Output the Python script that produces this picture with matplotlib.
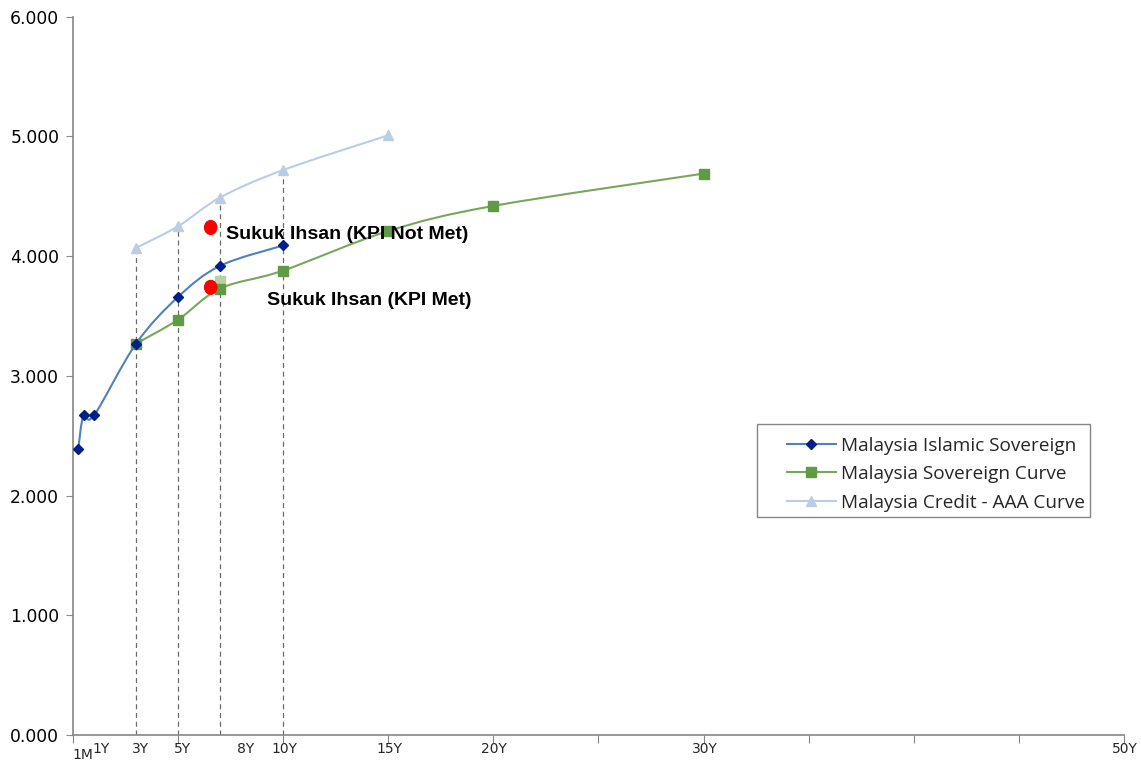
import matplotlib
matplotlib.use("Agg")
import matplotlib.pyplot as plt
from matplotlib.path import Path
from matplotlib.patches import PathPatch, Ellipse, Rectangle
from matplotlib.lines import Line2D
import matplotlib.transforms as mtransforms

# tenor in years
islamic_x = [0.25, 0.5, 1, 3, 5, 7, 10]
islamic_y = [2.39, 2.67, 2.67, 3.27, 3.66, 3.92, 4.09]

sov_x = [3, 5, 7, 10, 15, 20, 30]
sov_y = [3.27, 3.47, 3.73, 3.88, 4.21, 4.42, 4.69]

aaa_x = [3, 5, 7, 10, 15]
aaa_y = [4.07, 4.25, 4.49, 4.72, 5.01]

# Sukuk Ihsan points
ihsan_x = [6.55, 6.55]
ihsan_y = [4.24, 3.74]
ihsan_labels = ["Sukuk Ihsan (KPI Not Met)", "Sukuk Ihsan (KPI Met)"]
extra_sq = (7, 3.79)

dash_x = [3, 5, 7, 10]
dash_top = [4.07, 4.25, 4.49, 4.72]

xlab_pos = [0.45, 1.35, 3.2, 5.2, 8.2, 10.05, 15.05, 20.05, 30.05, 50.05]
xlab_txt = ["1M", "1Y", "3Y", "5Y", "8Y", "10Y", "15Y", "20Y", "30Y", "50Y"]

c_isl = "#4f81bd"
c_isl_m = "#001f8c"
c_sov = "#77a85a"
c_sov_m = "#5f9a45"
c_aaa = "#b9cde5"
grey = "#868686"

fig = plt.figure(figsize=(11.41, 7.61), dpi=100)
ax = fig.add_axes([0.064, 0.034, 0.921, 0.944])
ax.set_xlim(0, 50)
ax.set_ylim(0, 6)


def smooth_line(ax, xs, ys, color, lw):
    # excel-style smoothed line: cubic bezier through the points (in pixel space)
    fig.canvas.draw()
    pts = ax.transData.transform(list(zip(xs, ys)))
    n = len(pts)
    verts = [pts[0]]
    codes = [Path.MOVETO]
    for i in range(n - 1):
        p0 = pts[i - 1] if i > 0 else pts[i]
        p1 = pts[i]
        p2 = pts[i + 1]
        p3 = pts[i + 2] if i + 2 < n else pts[i + 1]
        c1 = p1 + (p2 - p0) / 6.0
        c2 = p2 - (p3 - p1) / 6.0
        verts += [c1, c2, p2]
        codes += [Path.CURVE4] * 3
    path = Path(verts, codes)
    ax.add_patch(PathPatch(path, transform=None, facecolor="none",
                           edgecolor=color, lw=lw, zorder=3))


# dashed drop lines
for x, top in zip(dash_x, dash_top):
    ax.plot([x, x], [0, top], ls=(0, (4, 3)), color="#6b6b6b", lw=0.9, zorder=1)

smooth_line(ax, aaa_x, aaa_y, c_aaa, 1.5)
smooth_line(ax, sov_x, sov_y, c_sov, 1.5)
smooth_line(ax, islamic_x, islamic_y, c_isl, 1.5)

ax.plot(aaa_x, aaa_y, ls="none", marker="^", ms=7, color=c_aaa, zorder=4)
ax.plot(sov_x, sov_y, ls="none", marker="s", ms=6.5, color=c_sov_m, zorder=4)
ax.plot([extra_sq[0]], [extra_sq[1]], ls="none", marker="s", ms=7, color="#b5d3a2", zorder=3.5)
ax.plot(islamic_x, islamic_y, ls="none", marker="D", ms=5, color=c_isl_m, zorder=5)

# red markers
for x, y in zip(ihsan_x, ihsan_y):
    ax.add_patch(Ellipse((x, y), 0.58, 0.115, color="red", zorder=6))

ax.text(7.3, ihsan_y[0] - 0.055, ihsan_labels[0], fontsize=14, fontweight="bold",
        family="Liberation Sans", va="center", ha="left", zorder=7)
ax.text(9.25, ihsan_y[1] - 0.11, ihsan_labels[1], fontsize=14, fontweight="bold",
        family="Liberation Sans", va="center", ha="left", zorder=7)

# axes styling
for s in ["top", "right"]:
    ax.spines[s].set_visible(False)
for s in ["left", "bottom"]:
    ax.spines[s].set_color(grey)
    ax.spines[s].set_linewidth(1.2)

ax.set_yticks([0, 1, 2, 3, 4, 5, 6])
ax.set_yticklabels([f"{v:.3f}" for v in range(7)], fontsize=12.3)
ax.tick_params(axis="y", direction="out", length=5, color=grey, pad=5)
ax.set_xticks(range(0, 51, 5))
ax.set_xticklabels([])
ax.tick_params(axis="x", direction="out", length=6, color=grey)

trans = mtransforms.blended_transform_factory(ax.transData, ax.transAxes)
for x, t in zip(xlab_pos, xlab_txt):
    dy = -0.027 if t == "1M" else -0.019
    ax.text(x, dy, t, transform=trans, fontsize=10, ha="center", va="center",
            color="#262626")

# legend box drawn separately (excel style with wide left padding)
ax.add_patch(Rectangle((0.6508, 0.3036), 0.3169, 0.1295, transform=ax.transAxes,
                       facecolor="white", edgecolor=grey, lw=1.0, zorder=8))
handles = [
    Line2D([], [], color=c_isl, lw=1.5, marker="D", ms=5, mfc=c_isl_m, mec=c_isl_m),
    Line2D([], [], color=c_sov, lw=1.5, marker="s", ms=6.5, mfc=c_sov_m, mec=c_sov_m),
    Line2D([], [], color=c_aaa, lw=1.5, marker="^", ms=7),
]
leg = ax.legend(handles, ["Malaysia Islamic Sovereign", "Malaysia Sovereign Curve",
                          "Malaysia Credit - AAA Curve"],
                loc="upper left", bbox_to_anchor=(0.679, 0.4155), fontsize=13.7,
                frameon=False, handlelength=2.6, handletextpad=0.27,
                borderpad=0, labelspacing=0.55, borderaxespad=0)
leg.set_zorder(9)
for t in leg.get_texts():
    t.set_family("Open Sans")
    t.set_color("#262626")

fig.savefig("out.png", dpi=100)
